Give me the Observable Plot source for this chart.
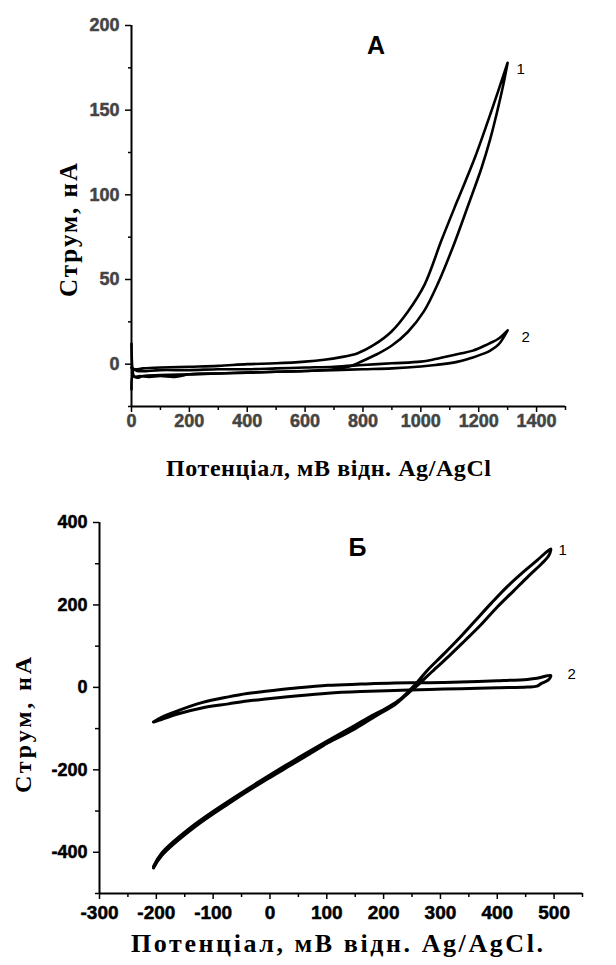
<!DOCTYPE html>
<html>
<head>
<meta charset="utf-8">
<script src="https://cdn.jsdelivr.net/npm/d3@7"></script>
<script src="https://cdn.jsdelivr.net/npm/@observablehq/plot@0.6"></script>
<style>
  html, body { margin: 0; padding: 0; background: white; }
  #wrap { width: 616px; height: 965px; position: relative; }
  svg { display: block; }
  svg text.tick-bold { font-weight: bold; paint-order: stroke; stroke-width: 1px; stroke-linejoin: round; }
</style>
</head>
<body>
<div id="wrap"></div>
<script>
// ---------- Panel A data (potential mV, current nA) ----------
const a1_fwd_E = [0, 4, 10, 30, 60, 100, 150, 200, 300, 400, 500, 600, 700, 760, 800, 850, 900, 955, 1010, 1060, 1115, 1164, 1210, 1240, 1265, 1285, 1300];
const a1_fwd_I = [12, -4, -7.5, -7, -7.5, -7, -7.5, -6, -5.5, -5, -4.5, -4, -3, -1, 2, 6, 11, 19, 31, 48, 71, 94, 116, 133, 150, 165, 178];
const a1_rev_E = [1300, 1245, 1187, 1125, 1071, 1013, 955, 897, 839, 782, 720, 666, 600, 500, 400, 300, 200, 100, 40, 10, 0];
const a1_rev_I = [178, 150, 122, 96, 73, 47, 31, 19, 11.5, 6.5, 4, 2.6, 1.5, 0.5, 0, -1, -1.5, -2, -2.5, -3, -2];
const a2_fwd_E = [0, 20, 100, 200, 300, 400, 500, 600, 700, 800, 900, 1000, 1050, 1129, 1180, 1222, 1240, 1268, 1300];
const a2_fwd_I = [-2, -4, -3.5, -3.5, -3, -3, -2.5, -2, -1.5, -0.5, 0.5, 1.5, 3, 6, 8, 11, 12.5, 15, 20];
const a2_rev_E = [1300, 1268, 1240, 1222, 1180, 1129, 1050, 1000, 900, 800, 700, 600, 500, 400, 300, 200, 100, 40, 20, 5, 0];
const a2_rev_I = [20, 11.5, 8, 6.5, 4, 1.5, -0.5, -1.4, -2.5, -3, -3.5, -4, -4.5, -5, -5.5, -6, -6.5, -7, -8, -7, -15];
const xTicksA = [0, 200, 400, 600, 800, 1000, 1200, 1400];
const xMinorA = [100, 300, 500, 700, 900, 1100, 1300, 1500];
const yTicksA = [0, 50, 100, 150, 200];
const yMinorA = [-25, 25, 75, 125, 175];

// ---------- Panel Б data ----------
const b1_fwd_E = [-205, -190, -132, -73, -3, 40, 95, 100, 150, 190, 219, 245, 262, 285, 315, 342, 370, 400, 428, 455, 478, 490, 494];
const b1_fwd_I = [-438, -407, -338, -282, -221, -186, -140, -136, -100, -66, -43, -12, 8, 38, 76, 112, 150, 195, 233, 270, 300, 318, 332];
const b1_rev_E = [494, 470, 445, 418, 390, 360, 330, 303, 276, 255, 230, 205, 175, 150, 100, 40, -3, -73, -132, -190, -205];
const b1_rev_I = [336, 308, 279, 245, 205, 160, 115, 77, 40, 6, -28, -50, -72, -92, -131, -179, -215, -276, -332, -401, -434];
const b2_fwd_E = [-205, -196, -161, -120, -73, -40, -3, 50, 102, 160, 219, 280, 336, 400, 453, 470, 477, 490, 494];
const b2_fwd_I = [-84, -80, -64, -50, -40, -33, -27.5, -20, -14, -10, -7.3, -5, -3.2, -1, 0.8, 3, 9, 18, 26];
const b2_rev_E = [494, 470, 453, 400, 336, 280, 219, 160, 102, 50, -3, -40, -73, -120, -161, -190, -205];
const b2_rev_I = [29, 22, 19.4, 16, 13, 11.5, 10.5, 8, 5, -1, -9, -15, -23, -37, -56, -72, -84];
const xTicksB = [-300, -200, -100, 0, 100, 200, 300, 400, 500];
const xMinorB = [-250, -150, -50, 50, 150, 250, 350, 450, 550];
const yTicksB = [-400, -200, 0, 200, 400];
const yMinorB = [-500, -300, -100, 100, 300];

function rows(curve, E, I) { return E.map((e, i) => ({curve, E: e, I: I[i]})); }
const dataA = [
  ...rows("1", a1_fwd_E, a1_fwd_I), ...rows("1", a1_rev_E, a1_rev_I),
  ...rows("2", a2_fwd_E, a2_fwd_I), ...rows("2", a2_rev_E, a2_rev_I)
];
const dataB = [
  ...rows("1", b1_fwd_E, b1_fwd_I), ...rows("1", b1_rev_E, b1_rev_I),
  ...rows("2", b2_fwd_E, b2_fwd_I), ...rows("2", b2_rev_E, b2_rev_I)
];

const sans = "'Liberation Sans', Arial, sans-serif";
const serif = "'Liberation Serif', 'Times New Roman', serif";
const fmt = d => String(d);

// Tick labels drawn as text marks (bold), ticks drawn by the axis marks
function tickLabelsX(ticks, opts) {
  return Plot.text(ticks, {x: d => d, frameAnchor: "bottom", text: fmt, fontWeight: "bold", lineAnchor: "top", ...opts});
}
function tickLabelsY(ticks, opts) {
  return Plot.text(ticks, {y: d => d, frameAnchor: "left", text: fmt, fontWeight: "bold", textAnchor: "end", ...opts});
}

const plotA = Plot.plot({
  width: 616, height: 485,
  marginLeft: 131, marginRight: 51, marginTop: 25, marginBottom: 79,
  x: {domain: [0, 1500]},
  y: {domain: [-25, 200]},
  style: {fontFamily: sans, background: "white", overflow: "visible"},
  marks: [
    Plot.ruleX([0], {stroke: "black", strokeWidth: 2}),
    Plot.ruleY([-25], {stroke: "black", strokeWidth: 2}),
    Plot.axisY(yTicksA, {tickSize: 6, tickFormat: () => "", stroke: "black", strokeWidth: 1.5, label: null}),
    Plot.axisY(yMinorA, {tickSize: 3, tickFormat: () => "", stroke: "black", strokeWidth: 1.5, label: null}),
    Plot.axisX(xTicksA, {tickSize: 6, tickFormat: () => "", stroke: "black", strokeWidth: 1.5, label: null}),
    Plot.axisX(xMinorA, {tickSize: 4, tickFormat: () => "", stroke: "black", strokeWidth: 1.5, label: null}),
    tickLabelsY(yTicksA, {dx: -12, fontSize: 18, fill: "#444", stroke: "#444", strokeWidth: 0.5}),
    tickLabelsX(xTicksA, {dy: 8, fontSize: 18, fill: "#444", stroke: "#444", strokeWidth: 0.5}),
    Plot.line(dataA, {x: "E", y: "I", z: "curve", stroke: "black", strokeWidth: 2.6, strokeLinejoin: "round", curve: "catmull-rom"}),
    Plot.text(["А"], {x: 845, y: 188, fontSize: 25, fontWeight: "bold", fill: "black"}),
    Plot.text(["1"], {x: 1345, y: 174, fontSize: 15, fill: "black"}),
    Plot.text(["2"], {x: 1362, y: 16, fontSize: 15, fill: "black"}),
    Plot.text(["Струм, нА"], {frameAnchor: "left", textAnchor: "middle", lineAnchor: "middle", rotate: -90, dx: -63, dy: 14, fontFamily: serif, fontSize: 25, fontWeight: "bold", fill: "black"}),
    Plot.text(["Потенціал, мВ відн. Ag/AgCl"], {frameAnchor: "bottom", textAnchor: "middle", lineAnchor: "middle", dx: -20, dy: 62, fontFamily: serif, fontSize: 24, fontWeight: "bold", fill: "black"})
  ]
});

const plotB = Plot.plot({
  width: 616, height: 480,
  marginLeft: 99, marginRight: 34, marginTop: 37, marginBottom: 72,
  x: {domain: [-300, 550]},
  y: {domain: [-500, 400]},
  style: {fontFamily: sans, background: "white", overflow: "visible"},
  marks: [
    Plot.ruleX([-300], {stroke: "black", strokeWidth: 2}),
    Plot.ruleY([-500], {stroke: "black", strokeWidth: 2}),
    Plot.axisY(yTicksB, {tickSize: 6, tickFormat: () => "", stroke: "black", strokeWidth: 1.5, label: null}),
    Plot.axisY(yMinorB, {tickSize: 4, tickFormat: () => "", stroke: "black", strokeWidth: 1.5, label: null}),
    Plot.axisX(xTicksB, {tickSize: 6, tickFormat: () => "", stroke: "black", strokeWidth: 1.5, label: null}),
    Plot.axisX(xMinorB, {tickSize: 4, tickFormat: () => "", stroke: "black", strokeWidth: 1.5, label: null}),
    tickLabelsY(yTicksB, {dx: -12, fontSize: 18, fill: "black", stroke: "black", strokeWidth: 0.5}),
    tickLabelsX(xTicksB, {dy: 12, fontSize: 19, fill: "black", stroke: "black", strokeWidth: 0.5}),
    Plot.line(dataB, {x: "E", y: "I", z: "curve", stroke: "black", strokeWidth: 3, strokeLinejoin: "round", curve: "catmull-rom"}),
    Plot.text(["Б"], {x: 154, y: 337, fontSize: 25, fontWeight: "bold", fill: "black"}),
    Plot.text(["1"], {x: 515, y: 334, fontSize: 15, fill: "black"}),
    Plot.text(["2"], {x: 531, y: 31, fontSize: 15, fill: "black"}),
    Plot.text(["Струм, нА"], {frameAnchor: "left", textAnchor: "middle", lineAnchor: "middle", rotate: -90, dx: -76, dy: 17, fontFamily: serif, fontSize: 24, fontWeight: "bold", fill: "black"}),
    Plot.text(["Потенціал, мВ відн. Ag/AgCl."], {frameAnchor: "bottom", textAnchor: "middle", lineAnchor: "middle", dx: -4, dy: 50, fontFamily: serif, fontSize: 26, fontWeight: "bold", fill: "black"})
  ]
});

// Title widths (textLength) that Plot's options do not expose
function finish(svg, xTitleLen, yTitleLen) {
  d3.select(svg).selectAll("text").each(function() {
    const t = this.textContent.trim();
    if (t.startsWith("Потенціал")) { this.setAttribute("textLength", xTitleLen); this.setAttribute("lengthAdjust", "spacing"); }
    if (t.startsWith("Струм")) { this.setAttribute("textLength", yTitleLen); this.setAttribute("lengthAdjust", "spacing"); }
  });
  return svg;
}

const wrap = document.getElementById("wrap");
wrap.appendChild(finish(plotA, 325, 134));
wrap.appendChild(finish(plotB, 412, 136));
</script>
</body>
</html>
